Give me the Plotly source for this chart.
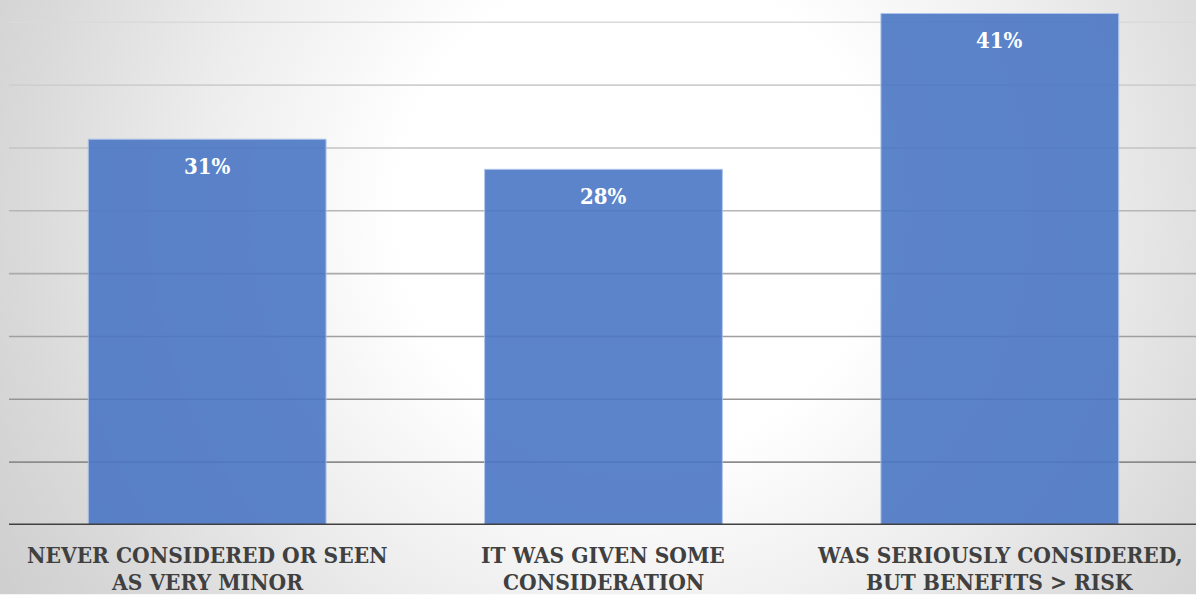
import base64
import plotly.graph_objects as go

# ---- data ----
categories = [
    "NEVER CONSIDERED OR SEEN<br>AS VERY MINOR",
    "IT WAS GIVEN SOME<br>CONSIDERATION",
    "WAS SERIOUSLY CONSIDERED,<br>BUT BENEFITS > RISK",
]
values = [0.307, 0.283, 0.407]
grid_values = [0.05, 0.10, 0.15, 0.20, 0.25, 0.30, 0.35, 0.40]
grid_colors = ["#8c8c8c", "#959595", "#9f9f9f", "#aaaaaa", "#b6b6b6", "#c3c3c3", "#cfcfcf", "#dadada"]

W, H = 1196, 595
FONT = "'DejaVu Serif Condensed', 'DejaVu Serif', serif"

svg = f'''<svg xmlns="http://www.w3.org/2000/svg" width="{W}" height="{H}" viewBox="0 0 {W} {H}">
<defs><radialGradient id="g" gradientUnits="userSpaceOnUse" cx="640" cy="210" r="760">
<stop offset="0" stop-color="#ffffff"/>
<stop offset="0.32" stop-color="#ffffff"/>
<stop offset="0.58" stop-color="#ededed"/>
<stop offset="0.82" stop-color="#d9d9d9"/>
<stop offset="1" stop-color="#cdcdcd"/>
</radialGradient></defs>
<rect width="{W}" height="{H}" fill="url(#g)"/></svg>'''
src = "data:image/svg+xml;base64," + base64.b64encode(svg.encode()).decode()

ML, MB = 9, 69.5
plot_w = W - ML
plot_h = H - MB

fig = go.Figure()
fig.add_trace(go.Bar(
    x=categories, y=values, width=0.6,
    marker=dict(color="rgb(75,119,197)", line=dict(color="#a9c0e8", width=1)),
    opacity=0.9, hoverinfo="skip",
))

shapes = []
for gv, gc in zip(grid_values, grid_colors):
    shapes.append(dict(type="line", xref="paper", x0=0, x1=1, yref="y", y0=gv, y1=gv,
                       line=dict(color=gc, width=1.6), layer="below"))
shapes.append(dict(type="line", xref="paper", x0=0, x1=1, yref="y", y0=0, y1=0,
                   line=dict(color="#404040", width=3), layer="above"))

annotations = []
for c, v in zip(categories, values):
    annotations.append(dict(x=c, y=v, xref="x", yref="y", text=f"<b>{v:.0%}</b>", showarrow=False,
                            yanchor="middle", yshift=-27,
                            font=dict(family=FONT, size=22, color="white")))
    lines = c.split("<br>")
    for i, ln in enumerate(lines):
        annotations.append(dict(x=c, y=0, xref="x", yref="paper", text=f"<b>{ln}</b>", showarrow=False,
                                yanchor="middle", yshift=-29.5 - 27.5 * i,
                                font=dict(family=FONT, size=22.5, color="#404040")))

fig.update_layout(
    width=W, height=H,
    margin=dict(l=ML, r=0, t=0, b=MB, pad=0),
    paper_bgcolor="white", plot_bgcolor="rgba(0,0,0,0)",
    showlegend=False,
    xaxis=dict(range=[-0.5, 2.495], showticklabels=False, showgrid=False, zeroline=False,
               showline=False, ticks=""),
    yaxis=dict(range=[0, plot_h / 1258.0], showticklabels=False, showgrid=False, zeroline=False,
               showline=False, ticks=""),
    shapes=shapes,
    annotations=annotations,
    images=[dict(source=src, xref="paper", yref="paper",
                 x=-ML / plot_w, y=1, sizex=W / plot_w, sizey=H / plot_h,
                 xanchor="left", yanchor="top", sizing="stretch", layer="below")],
)

fig.write_html("out.html")
